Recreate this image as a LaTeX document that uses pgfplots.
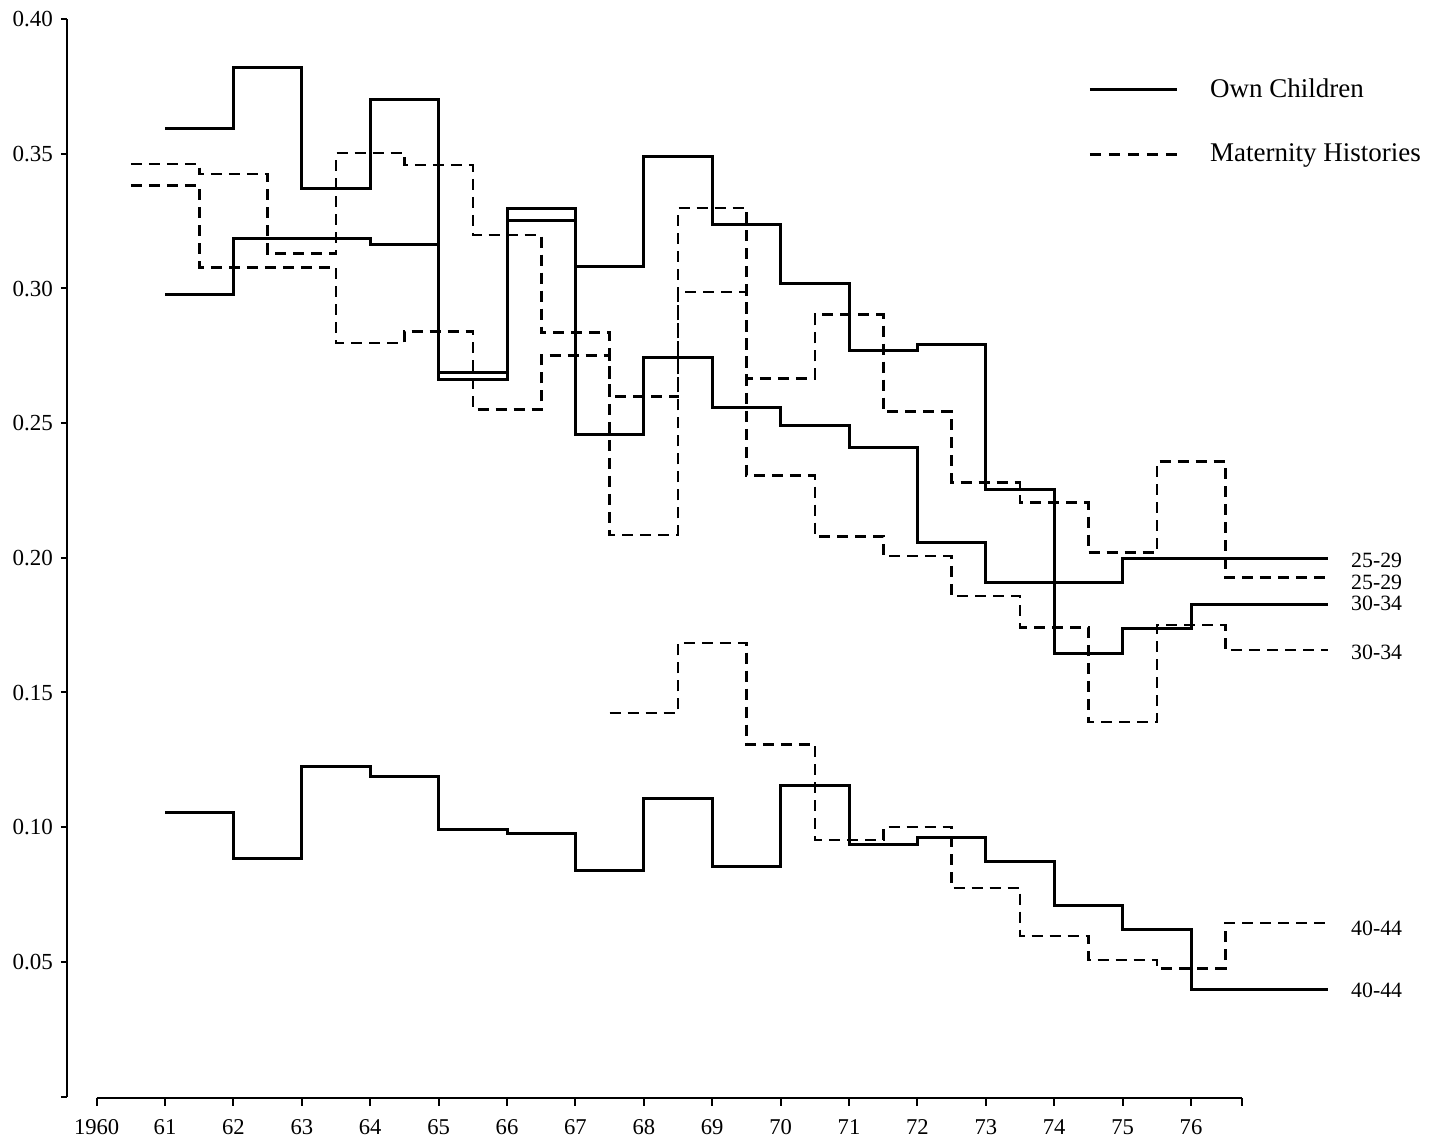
\documentclass[border=0pt]{standalone}
\usepackage{fontspec}
\setmainfont{Liberation Serif}
\usepackage{pgfplots}
\usepackage{pgfplotstable}
\pgfplotsset{compat=1.18}

% Own Children (solid), step values held from x to next x
\pgfplotstableread{
x y
61 0.3594
62 0.3820
63 0.3369
64 0.3700
65 0.2661
66 0.3296
67 0.2457
68 0.2742
69 0.2557
70 0.2490
71 0.2410
72 0.2057
73 0.1910
74 0.1910
75 0.1998
76 0.1998
78 0.1998
}\ocA
\pgfplotstableread{
x y
61 0.2977
62 0.3185
63 0.3185
64 0.3164
65 0.2689
66 0.3253
67 0.3080
68 0.3490
69 0.3236
70 0.3017
71 0.2771
72 0.2790
73 0.2254
74 0.1645
75 0.1738
76 0.1825
78 0.1825
}\ocB
\pgfplotstableread{
x y
61 0.1054
62 0.0885
63 0.1227
64 0.1187
65 0.0992
66 0.0977
67 0.0841
68 0.1107
69 0.0853
70 0.1154
71 0.0934
72 0.0961
73 0.0872
74 0.0709
75 0.0621
76 0.0396
78 0.0396
}\ocC
% Maternity Histories (dashed)
\pgfplotstableread{
x y
60.5 0.3462
61.5 0.3425
62.5 0.3129
63.5 0.3502
64.5 0.3458
65.5 0.3198
66.5 0.2836
67.5 0.2598
68.5 0.3298
69.5 0.2665
70.5 0.2902
71.5 0.2543
72.5 0.2280
73.5 0.2205
74.5 0.2020
75.5 0.2357
76.5 0.1927
78 0.1927
}\mhA
\pgfplotstableread{
x y
60.5 0.3382
61.5 0.3078
62.5 0.3078
63.5 0.2797
64.5 0.2840
65.5 0.2550
66.5 0.2750
67.5 0.2085
68.5 0.2987
69.5 0.2305
70.5 0.2080
71.5 0.2006
72.5 0.1858
73.5 0.1742
74.5 0.1390
75.5 0.1750
76.5 0.1658
78 0.1658
}\mhB
\pgfplotstableread{
x y
67.5 0.1424
68.5 0.1683
69.5 0.1308
70.5 0.0953
71.5 0.1000
72.5 0.0774
73.5 0.0596
74.5 0.0507
75.5 0.0476
76.5 0.0644
78 0.0644
}\mhC

\begin{document}
\begin{tikzpicture}
\begin{axis}[
  x=34.2pt, y=1347pt,
  xmin=59.567, xmax=78, ymin=0, ymax=0.4,
  axis x line=none, axis y line=left,
  y axis line style={-, line width=1pt},
  ytick={0,0.05,0.1,0.15,0.2,0.25,0.3,0.35,0.4},
  yticklabels={,0.05,0.10,0.15,0.20,0.25,0.30,0.35,0.40},
  tick align=outside, major tick length=3pt,
  tick style={line width=1pt, black},
  yticklabel style={font=\fontsize{11.5}{13}\selectfont, xshift=-0.5pt,
    text height=7.8pt, text depth=0pt},
  clip=false,
  legend style={draw=none, fill=none, at={(0.805,0.949)}, anchor=north west,
    font=\fontsize{13.5}{16}\selectfont, nodes={inner sep=0pt},
    row sep=22pt, /tikz/every odd column/.append style={column sep=16pt}},
  legend cell align=left,
  legend image code/.code={\draw[#1] (0pt,0pt) -- (43.5pt,0pt);},
]
\addlegendimage{black, line width=1.4pt}
\addlegendentry{Own Children}
\addlegendimage{black, line width=1.3pt, dash pattern=on 5.5pt off 4pt}
\addlegendentry{Maternity Histories}

\addplot[forget plot, const plot, black, line width=1.5pt] table {\ocA};
\addplot[forget plot, const plot, black, line width=1.5pt] table {\ocB};
\addplot[forget plot, const plot, black, line width=1.5pt] table {\ocC};
\addplot[forget plot, const plot, black, line width=1.3pt, dash pattern=on 5.5pt off 3.5pt] table {\mhA};
\addplot[forget plot, const plot, black, line width=1.3pt, dash pattern=on 5.5pt off 3.5pt] table {\mhB};
\addplot[forget plot, const plot, black, line width=1.3pt, dash pattern=on 5.5pt off 3.5pt] table {\mhC};

\begin{scope}[every node/.style={anchor=west, inner sep=0pt, xshift=11.5pt,
    text height=7.4pt, text depth=0pt, font=\fontsize{10.9}{12}\selectfont}]
\node at (axis cs:78,0.1991) {25-29};
\node at (axis cs:78,0.1911) {25-29};
\node at (axis cs:78,0.1831) {30-34};
\node at (axis cs:78,0.1650) {30-34};
\node at (axis cs:78,0.0627) {40-44};
\node at (axis cs:78,0.0396) {40-44};
\end{scope}
\end{axis}

\begin{axis}[
  at={(14.81pt,-0.7pt)}, anchor=south west,
  x=34.2pt, y=1pt,
  xmin=60, xmax=76.75, ymin=0, ymax=1,
  axis x line=bottom, axis y line=none,
  x axis line style={-, line width=1pt},
  xtick={60,...,76},
  xticklabels={1960,61,62,63,64,65,66,67,68,69,70,71,72,73,74,75,76},
  extra x ticks={76.75}, extra x tick labels={},
  tick align=outside, major tick length=4pt,
  tick style={line width=1pt, black},
  xticklabel style={font=\fontsize{11.3}{13}\selectfont, yshift=-3pt,
    text height=7.7pt, text depth=0pt},
]
\end{axis}
\path (-33.5pt,-21.2pt) rectangle (691pt,548.3pt);
\end{tikzpicture}
\end{document}
